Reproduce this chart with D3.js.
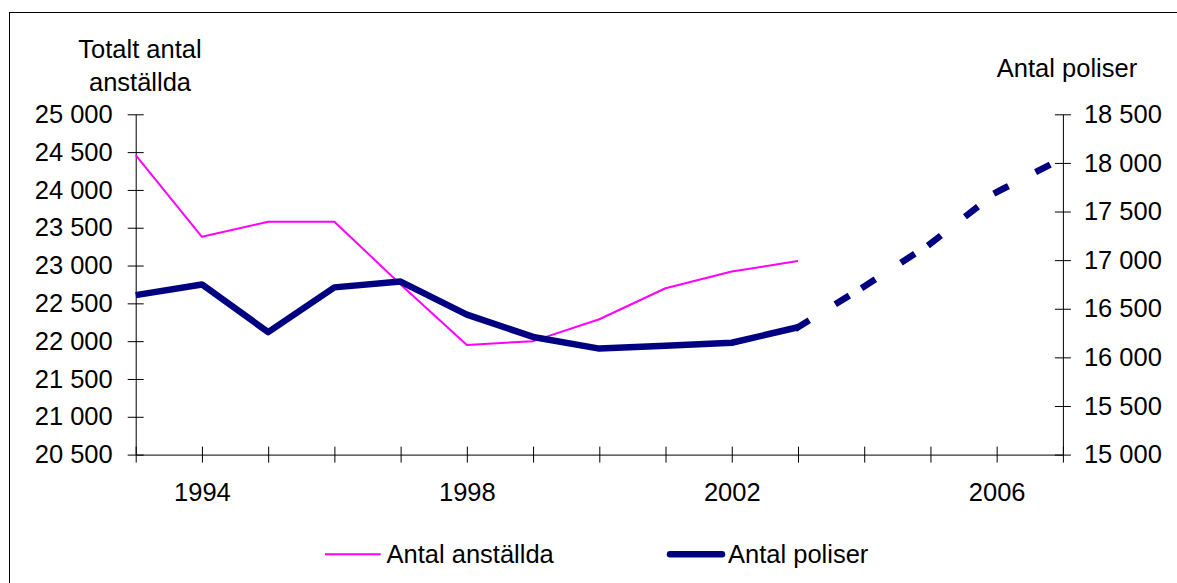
<html>
<script src='https://cdn.jsdelivr.net/npm/d3@7'></script>
<body onload='init()' style="margin:0; background-color:white;">

<svg id="chart" width="1177" height="583"></svg>

<script>

// Data
const years = [1993, 1994, 1995, 1996, 1997, 1998, 1999, 2000, 2001, 2002, 2003];
const anstallda = [24460, 23380, 23580, 23580, 22750, 21950, 22000, 22290, 22700, 22920, 23060];
const poliser = [16640, 16750, 16260, 16720, 16780, 16440, 16210, 16090, 16120, 16150, 16310];

// forecast part of "Antal poliser" (dashed)
const prognosYears = [2003, 2004, 2005, 2006, 2007];
const prognos = [16310, 16730, 17170, 17700, 18050];

const leftTicks = [20500, 21000, 21500, 22000, 22500, 23000, 23500, 24000, 24500, 25000];
const rightTicks = [15000, 15500, 16000, 16500, 17000, 17500, 18000, 18500];
const xTicks = [1993, 1994, 1995, 1996, 1997, 1998, 1999, 2000, 2001, 2002, 2003, 2004, 2005, 2006, 2007];
const xLabels = [1994, 1998, 2002, 2006];

const seriesNames = ["Antal anställda", "Antal poliser"];
const seriesColors = ["#FF00FF", "#000080"];

function init() {

    const font = "'Liberation Sans', Arial, sans-serif";
    const fontSize = 25.5;

    const svg = d3.select('#chart')
        .style("font-family", font);

    // outer frame
    svg.append("rect")
        .attr("x", 9.5)
        .attr("y", 12.5)
        .attr("width", 1200)
        .attr("height", 600)
        .attr("fill", "none")
        .attr("stroke", "black");

    const xScale = d3.scaleLinear()
        .domain([1993, 2007])
        .range([135.7, 1062.9]);

    const yLeft = d3.scaleLinear()
        .domain([20500, 25000])
        .range([454.6, 114.3]);

    const yRight = d3.scaleLinear()
        .domain([15000, 18500])
        .range([454.6, 114.3]);

    const fmt = d3.formatLocale({ decimal: ",", thousands: " ", grouping: [3], currency: ["", ""] }).format(",");

    const yAxisLeft = d3.axisLeft(yLeft)
        .tickValues(leftTicks)
        .tickFormat(fmt)
        .tickSizeInner(8)
        .tickSizeOuter(0)
        .tickPadding(15);

    const yAxisRight = d3.axisRight(yRight)
        .tickValues(rightTicks)
        .tickFormat(fmt)
        .tickSizeInner(8)
        .tickSizeOuter(0)
        .tickPadding(13);

    const xAxis = d3.axisBottom(xScale)
        .tickValues(xTicks)
        .tickFormat(d => xLabels.includes(d) ? String(d) : "")
        .tickSizeInner(8)
        .tickSizeOuter(0)
        .tickPadding(20.5);

    const gx = svg.append("g")
        .attr("transform", "translate(0, 454.6)")
        .call(xAxis);

    const gl = svg.append("g")
        .attr("transform", "translate(135.7, 0)")
        .call(yAxisLeft);

    const gr = svg.append("g")
        .attr("transform", "translate(1062.9, 0)")
        .call(yAxisRight);

    // ticks cross the axis lines
    gx.selectAll(".tick line").attr("y1", -8).attr("y2", 8);
    gl.selectAll(".tick line").attr("x1", 8).attr("x2", -8);
    gr.selectAll(".tick line").attr("x1", -8).attr("x2", 8);

    [gx, gl, gr].forEach(g => {
        g.selectAll("text")
            .attr("font-family", font)
            .attr("font-size", fontSize)
            .attr("fill", "black");
        g.selectAll("line, path").attr("stroke", "black");
    });

    // axis titles
    svg.append("text")
        .attr("x", 140)
        .attr("y", 58.3)
        .attr("text-anchor", "middle")
        .attr("font-size", fontSize)
        .text("Totalt antal");

    svg.append("text")
        .attr("x", 140)
        .attr("y", 90.7)
        .attr("text-anchor", "middle")
        .attr("font-size", fontSize)
        .text("anställda");

    svg.append("text")
        .attr("x", 1067)
        .attr("y", 77.3)
        .attr("text-anchor", "middle")
        .attr("font-size", fontSize)
        .text("Antal poliser");

    // lines
    const lineLeft = d3.line()
        .x((d, i) => xScale(years[i]))
        .y(d => yLeft(d));

    const lineRight = d3.line()
        .x((d, i) => xScale(years[i]))
        .y(d => yRight(d));

    svg.append("path")
        .datum(anstallda)
        .attr("d", lineLeft)
        .attr("fill", "none")
        .attr("stroke", seriesColors[0])
        .attr("stroke-width", 2)
        .attr("stroke-linejoin", "round");

    svg.append("path")
        .datum(poliser)
        .attr("d", lineRight)
        .attr("fill", "none")
        .attr("stroke", seriesColors[1])
        .attr("stroke-width", 6.5)
        .attr("stroke-linejoin", "round");

    // dashed forecast, dash pattern restarts on every segment
    const segs = d3.pairs(prognosYears.map((yr, i) => [yr, prognos[i]]));

    svg.selectAll(".prognos")
        .data(segs)
        .enter()
        .append("line")
        .attr("class", "prognos")
        .attr("x1", d => xScale(d[0][0]))
        .attr("y1", d => yRight(d[0][1]))
        .attr("x2", d => xScale(d[1][0]))
        .attr("y2", d => yRight(d[1][1]))
        .attr("stroke", seriesColors[1])
        .attr("stroke-width", 6.5)
        .attr("stroke-linecap", "square")
        .attr("stroke-dasharray", "10 37");

    // legend
    const legendItems = [
        { name: seriesNames[0], color: seriesColors[0], width: 2, x1: 325, x2: 380.7, tx: 386.5, cap: "butt" },
        { name: seriesNames[1], color: seriesColors[1], width: 6.5, x1: 670, x2: 722, tx: 728, cap: "round" }
    ];

    const legend = svg.selectAll(".legend")
        .data(legendItems)
        .enter()
        .append("g")
        .attr("class", "legend");

    legend.append("line")
        .attr("x1", d => d.x1)
        .attr("x2", d => d.x2)
        .attr("y1", 554.3)
        .attr("y2", 554.3)
        .attr("stroke", d => d.color)
        .attr("stroke-width", d => d.width)
        .attr("stroke-linecap", d => d.cap);

    legend.append("text")
        .attr("x", d => d.tx)
        .attr("y", 563.3)
        .attr("font-size", fontSize)
        .text(d => d.name);
}

</script>
</body>
</html>
